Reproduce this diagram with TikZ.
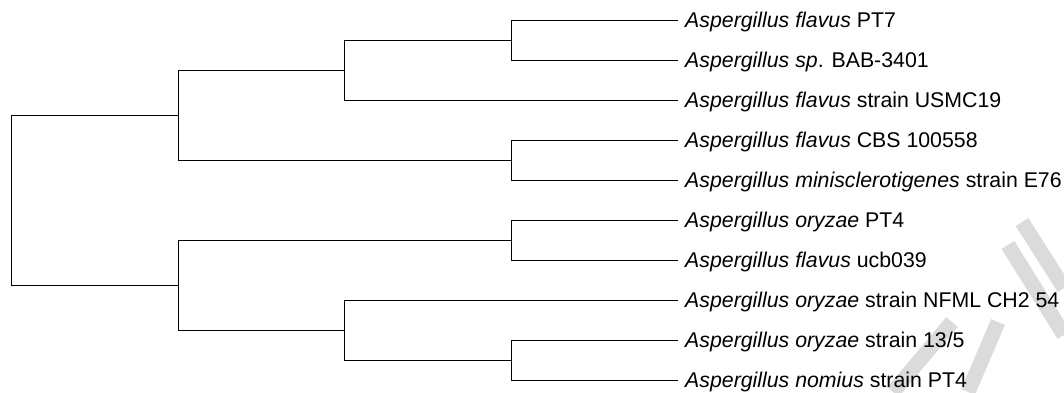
\documentclass[tikz,border=0pt]{standalone}
\usepackage{fontspec}
\setmainfont{Liberation Sans}
\begin{document}
\begin{tikzpicture}[x=1pt,y=-1pt,
  branch/.style={line width=1.5pt,black,line cap=rect},
  taxon/.style={anchor=west,inner xsep=8pt,inner ysep=0pt,
    font=\fontsize{21.3}{25}\selectfont,
    text height=14pt,text depth=0pt},
  wmstroke/.style={line width=15pt,black!14}]
\useasboundingbox (0,0) rectangle (1064,392);

% faint diagonal strokes in the lower right corner
\draw[wmstroke] (1022,222) -- (1064,288);
\draw[wmstroke] (1008,245) -- (1064,335);
\draw[wmstroke] (998,322) -- (968,392);
\draw[wmstroke] (952,322) -- (893,392);

% internal nodes of the tree
\coordinate (r)    at (11.5,200.5);
\coordinate (a)    at (178.5,115.5);
\coordinate (b)    at (178.5,285.5);
\coordinate (a1)   at (344.5,70.5);
\coordinate (a11)  at (511.5,40.5);
\coordinate (a2)   at (511.5,160.5);
\coordinate (b1)   at (511.5,240.5);
\coordinate (b2)   at (344.5,330.5);
\coordinate (b21)  at (511.5,360.5);

% leaves
\node[taxon] (t1)  at (677,20.5)  {\textit{Aspergillus flavus} PT7};
\node[taxon] (t2)  at (677,60.5)  {\textit{Aspergillus sp}. BAB-3401};
\node[taxon] (t3)  at (677,100.5) {\textit{Aspergillus flavus} strain USMC19};
\node[taxon] (t4)  at (677,140.5) {\textit{Aspergillus flavus} CBS 100558};
\node[taxon] (t5)  at (677,180.5) {\textit{Aspergillus minisclerotigenes} strain E76};
\node[taxon] (t6)  at (677,220.5) {\textit{Aspergillus oryzae} PT4};
\node[taxon] (t7)  at (677,260.5) {\textit{Aspergillus flavus} ucb039};
\node[taxon] (t8)  at (677,300.5) {\textit{Aspergillus oryzae} strain NFML CH2 54};
\node[taxon] (t9)  at (677,340.5) {\textit{Aspergillus oryzae} strain 13/5};
\node[taxon] (t10) at (677,380.5) {\textit{Aspergillus nomius} strain PT4};

% branches
\draw[branch] (r) |- (a);
\draw[branch] (r) |- (b);
\draw[branch] (a) |- (a1);
\draw[branch] (a) |- (a2);
\draw[branch] (a1) |- (a11);
\draw[branch] (a1) |- (t3.west);
\draw[branch] (a11) |- (t1.west);
\draw[branch] (a11) |- (t2.west);
\draw[branch] (a2) |- (t4.west);
\draw[branch] (a2) |- (t5.west);
\draw[branch] (b) |- (b1);
\draw[branch] (b) |- (b2);
\draw[branch] (b1) |- (t6.west);
\draw[branch] (b1) |- (t7.west);
\draw[branch] (b2) |- (t8.west);
\draw[branch] (b2) |- (b21);
\draw[branch] (b21) |- (t9.west);
\draw[branch] (b21) |- (t10.west);
\end{tikzpicture}
\end{document}
